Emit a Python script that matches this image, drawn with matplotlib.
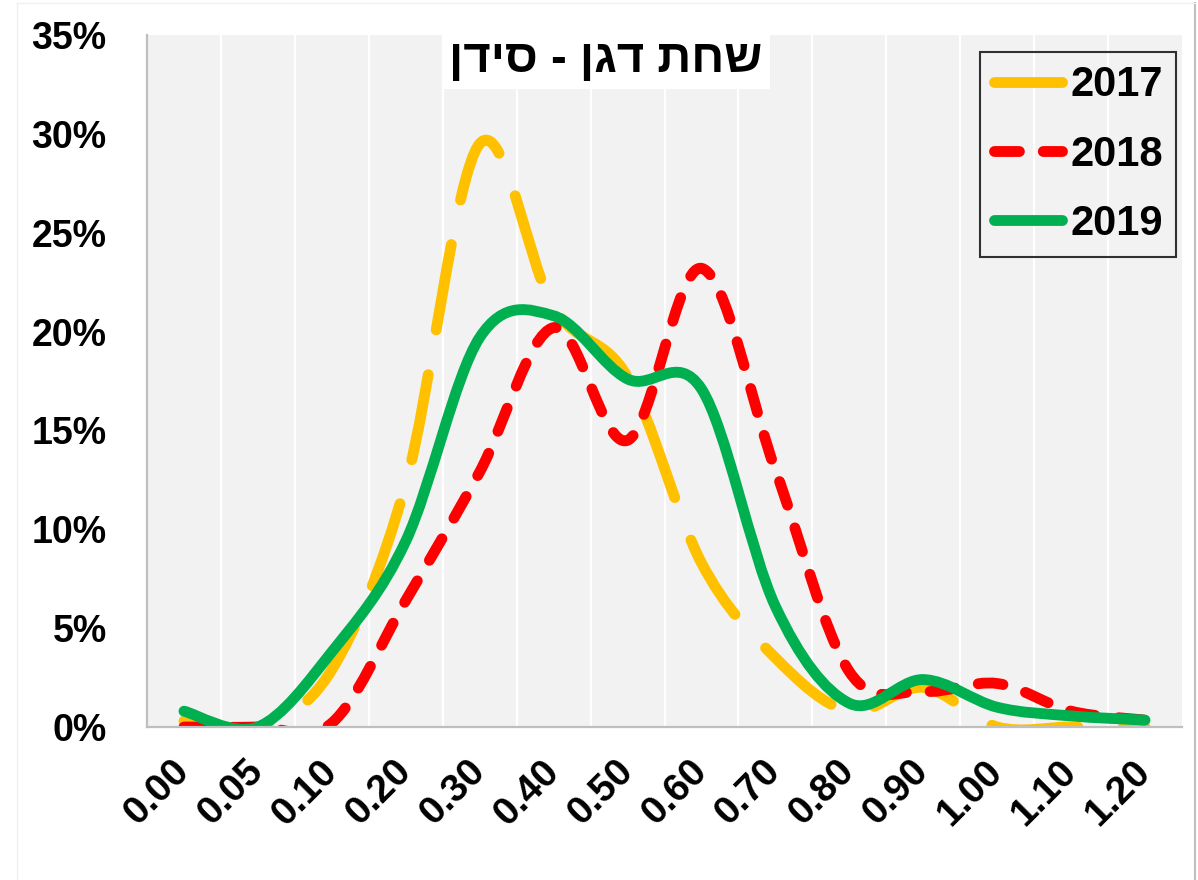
import numpy as np
import matplotlib.pyplot as plt
import matplotlib.transforms as mtransforms
from matplotlib.path import Path
from matplotlib.patches import PathPatch
from matplotlib.lines import Line2D
from matplotlib.ticker import PercentFormatter

plt.rcParams['font.family'] = ['Liberation Sans', 'DejaVu Sans']

# data (share of samples per bin)
categories = ['0.00', '0.05', '0.10', '0.20', '0.30', '0.40', '0.50',
              '0.60', '0.70', '0.80', '0.90', '1.00', '1.10', '1.20']
y2017 = [0.003, 0.0, 0.029, 0.123, 0.295, 0.212, 0.177, 0.083, 0.035, 0.008, 0.020, 0.0, 0.0, 0.0]
y2018 = [0.0, 0.0, 0.002, 0.064, 0.129, 0.202, 0.145, 0.232, 0.130, 0.028, 0.018, 0.022, 0.008, 0.0035]
y2019 = [0.008, 0.0, 0.038, 0.094, 0.197, 0.208, 0.176, 0.171, 0.061, 0.012, 0.024, 0.010, 0.0056, 0.0035]
years = ['2017', '2018', '2019']
colors = ['#FFC000', '#FF0000', '#00B050']
title = 'שחת דגן - סידן'

LW = 7.8
styles = [(0, (8.0, 4.2)), (0, (2.3, 2.2)), '-']


def smooth_path(xs, ys):
    # excel style smoothed line: one bezier per segment
    pts = np.column_stack([xs, ys]).astype(float)
    ext = np.vstack([pts[0], pts, pts[-1]])
    verts = [pts[0]]
    codes = [Path.MOVETO]
    for i in range(len(pts) - 1):
        p0, p1, p2, p3 = ext[i], ext[i + 1], ext[i + 2], ext[i + 3]
        verts += [p1 + (p2 - p0) / 6, p2 - (p3 - p1) / 6, p2]
        codes += [Path.CURVE4] * 3
    return Path(verts, codes)


fig = plt.figure(figsize=(11.98, 8.8), dpi=100)
ax = fig.add_axes([147 / 1198, 1 - 727 / 880, 1035 / 1198, 692 / 880])
ax.set_facecolor('#F2F2F2')

x = np.arange(len(categories))
for ys, c, ls in zip([y2017, y2018, y2019], colors, styles):
    ax.add_patch(PathPatch(smooth_path(x, ys), facecolor='none', edgecolor=c,
                           lw=LW, linestyle=ls, capstyle='round', joinstyle='round'))

ax.set_xlim(-0.5, len(categories) - 0.5)
ax.set_ylim(0, 0.35)

# vertical white gridlines between categories
ax.set_xticks(np.arange(0.5, len(categories) - 0.5, 1), minor=True)
ax.grid(which='minor', axis='x', color='white', lw=1.6)
ax.set_axisbelow(True)

ax.set_xticks(x, categories)
ax.set_yticks(np.arange(0, 0.351, 0.05))
ax.yaxis.set_major_formatter(PercentFormatter(1, decimals=0))
ax.tick_params(which='both', length=0)
ax.tick_params(axis='y', pad=29, labelsize=27)
ax.tick_params(axis='x', pad=28, labelsize=28)
for lbl in ax.get_yticklabels():
    lbl.set_fontweight('bold')
for lbl in ax.get_xticklabels():
    lbl.set_fontweight('bold')
    lbl.set_rotation(45)
    lbl.set_ha('right')
    lbl.set_va('center')
    lbl.set_rotation_mode('anchor')

for s in ['top', 'right']:
    ax.spines[s].set_visible(False)
for s in ['left', 'bottom']:
    ax.spines[s].set_color('#BFBFBF')
    ax.spines[s].set_linewidth(1.6)

# legend
handles = [Line2D([], [], color=c, lw=LW, linestyle=ls,
                  solid_capstyle='round', dash_capstyle='round')
           for c, ls in zip(colors, styles)]
leg = ax.legend(handles, years, loc='upper right',
                bbox_to_anchor=(1176 / 1198, 1 - 52 / 880), bbox_transform=fig.transFigure,
                prop=dict(weight='bold', size=30), fancybox=False, edgecolor='black',
                borderpad=0.32, labelspacing=0.7, handlelength=1.63,
                handletextpad=0.2, borderaxespad=0)
leg.get_frame().set_facecolor('none')
leg.get_frame().set_linewidth(1.5)

# title box (matplotlib has no bidi, so the hebrew is given in visual order)
fig.text(606 / 1198, 1 - 60 / 880, title[::-1], ha='center', va='center',
         fontsize=34, fontweight='bold',
         bbox=dict(facecolor='white', edgecolor='none', pad=5))

# chart area border
fig.add_artist(Line2D([1195 / 1198] * 2, [0, 1 - 3 / 880], transform=fig.transFigure,
                      color='#BFBFBF', lw=1.5))
fig.add_artist(Line2D([17 / 1198, 1195 / 1198], [1 - 3 / 880] * 2, transform=fig.transFigure,
                      color='#F0F0F0', lw=1))
fig.add_artist(Line2D([17 / 1198] * 2, [0, 1 - 3 / 880], transform=fig.transFigure,
                      color='#F0F0F0', lw=1))

fig.savefig('out.png', dpi=100)
